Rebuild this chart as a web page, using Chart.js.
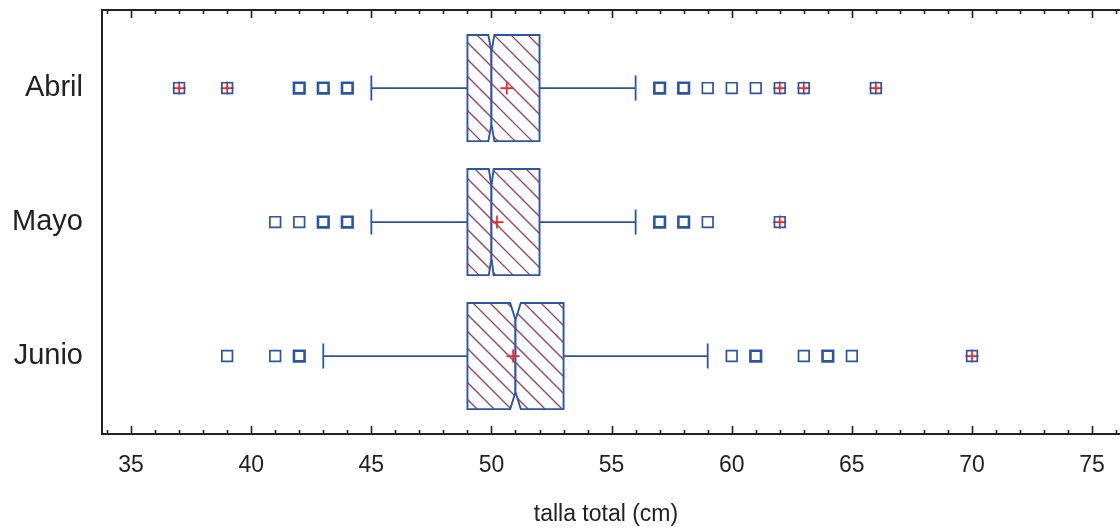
<!DOCTYPE html>
<html>
<head>
<meta charset="utf-8">
<script src="https://cdn.jsdelivr.net/npm/chart.js@4/dist/chart.umd.min.js"></script>
<style>
  body { margin: 0; background: #fff; }
  #wrap { width: 1120px; height: 529px; }
</style>
</head>
<body>
<div id="wrap"><canvas id="boxChart"></canvas></div>
<script>
// months on the vertical axis, top to bottom
var categories = ['Abril', 'Mayo', 'Junio'];

// box plot summary per month (talla total, cm)
var whiskerLow = [45, 45, 43];
var q1 = [49, 49, 49];
var median = [50, 50, 51];
var q3 = [52, 52, 53];
var whiskerHigh = [56, 56, 59];
var notchLow = [49.87, 49.89, 50.78];
var notchHigh = [50.12, 50.09, 51.22];
var means = [50.64, 50.23, 50.9];

// outside points; counts > 1 are drawn heavier (overlapping fish)
var abrilOutliers = [37, 39, 42, 43, 44, 57, 58, 59, 60, 61, 62, 63, 66];
var abrilCounts = [1, 1, 2, 2, 3, 2, 2, 1, 1, 1, 1, 1, 1];
var mayoOutliers = [41, 42, 43, 44, 57, 58, 59, 62];
var mayoCounts = [1, 1, 2, 2, 2, 2, 1, 1];
var junioOutliers = [39, 41, 42, 60, 61, 63, 64, 65, 70];
var junioCounts = [1, 1, 2, 1, 2, 1, 2, 1, 1];

// far outside points (red cross over the square)
var abrilFar = [37, 39, 62, 63, 66];
var mayoFar = [62];
var junioFar = [70];

var xTicks = [35, 40, 45, 50, 55, 60, 65, 70, 75];

var blue = '#2d55a5';
var red = '#ff2020';
var ink = '#222222';

function pts(list, idx) {
	return list.map(function (v) { return { x: v, y: idx }; });
}

var outlierData = pts(abrilOutliers, 0).concat(pts(mayoOutliers, 1), pts(junioOutliers, 2));
var outlierWidths = abrilCounts.concat(mayoCounts, junioCounts).map(function (c) { return c > 1 ? 2.6 : 1.7; });
var farData = pts(abrilFar, 0).concat(pts(mayoFar, 1), pts(junioFar, 2));
var meanData = means.map(function (m, i) { return { x: m, y: i }; });

function tracePoly(ctx, poly) {
	ctx.beginPath();
	poly.forEach(function (p, k) { k ? ctx.lineTo(p[0], p[1]) : ctx.moveTo(p[0], p[1]); });
	ctx.closePath();
}

var boxPlugin = {
	id: 'boxPlot',
	beforeDatasetsDraw: function (chart) {
		var ctx = chart.ctx;
		var xs = chart.scales.x;
		var ys = chart.scales.y;
		var X = function (v) { return xs.getPixelForValue(v); };
		categories.forEach(function (c, i) {
			var cy = ys.getPixelForValue(i);
			var top = ys.getPixelForValue(i - 0.396);
			var bot = ys.getPixelForValue(i + 0.396);
			var capH = 12.5;
			var inset = (bot - top) * 0.16;
			ctx.save();
			ctx.strokeStyle = blue;
			ctx.lineWidth = 1.8;
			// whiskers
			ctx.beginPath();
			ctx.moveTo(X(whiskerLow[i]), cy); ctx.lineTo(X(q1[i]), cy);
			ctx.moveTo(X(q3[i]), cy); ctx.lineTo(X(whiskerHigh[i]), cy);
			ctx.moveTo(X(whiskerLow[i]), cy - capH); ctx.lineTo(X(whiskerLow[i]), cy + capH);
			ctx.moveTo(X(whiskerHigh[i]), cy - capH); ctx.lineTo(X(whiskerHigh[i]), cy + capH);
			ctx.stroke();

			var halves = [
				[[X(q1[i]), top], [X(notchLow[i]), top], [X(median[i]), top + inset], [X(median[i]), bot - inset], [X(notchLow[i]), bot], [X(q1[i]), bot]],
				[[X(median[i]), top + inset], [X(notchHigh[i]), top], [X(q3[i]), top], [X(q3[i]), bot], [X(notchHigh[i]), bot], [X(median[i]), bot - inset]]
			];
			halves.forEach(function (poly) {
				tracePoly(ctx, poly);
				ctx.fillStyle = '#ffffff';
				ctx.fill();
				// diagonal hatch
				ctx.save();
				ctx.clip();
				ctx.strokeStyle = '#9d4466';
				ctx.lineWidth = 1.3;
				ctx.beginPath();
				var x0 = X(q1[i]) - (bot - top) - 20, x1 = X(q3[i]) + 20;
				for (var c0 = Math.floor((x0 - top) / 17) * 17; c0 < x1 - top; c0 += 17) {
					ctx.moveTo(c0 + top, top);
					ctx.lineTo(c0 + bot, bot);
				}
				ctx.stroke();
				ctx.restore();
				tracePoly(ctx, poly);
				ctx.strokeStyle = blue;
				ctx.lineWidth = 1.9;
				ctx.stroke();
			});
			ctx.restore();
		});
	},
	afterDraw: function (chart) {
		var ctx = chart.ctx;
		var a = chart.chartArea;
		var xs = chart.scales.x;
		ctx.save();
		ctx.strokeStyle = ink;
		ctx.lineWidth = 2;
		ctx.beginPath();
		ctx.moveTo(chart.width, a.top); ctx.lineTo(a.left, a.top);
		ctx.lineTo(a.left, a.bottom); ctx.lineTo(chart.width, a.bottom);
		ctx.stroke();
		ctx.lineWidth = 1.6;
		ctx.beginPath();
		for (var v = 34; v <= 76; v++) {
			var px = Math.round(xs.getPixelForValue(v)) + 0.5;
			if (px > chart.width) continue;
			var len = v % 5 === 0 ? 8 : 4;
			ctx.moveTo(px, a.bottom); ctx.lineTo(px, a.bottom - len);
			ctx.moveTo(px, a.top); ctx.lineTo(px, a.top + len);
		}
		ctx.stroke();
		ctx.restore();
	}
};

var chart = new Chart(document.getElementById('boxChart'), {
	type: 'scatter',
	data: {
		datasets: [
			{
				label: 'outliers',
				data: outlierData,
				pointStyle: 'rect',
				pointRadius: 7.5,
				pointBorderColor: blue,
				pointBackgroundColor: 'rgba(0,0,0,0)',
				pointBorderWidth: outlierWidths,
			},
			{
				label: 'far outliers',
				data: farData,
				pointStyle: 'cross',
				pointRadius: 6.5,
				pointBorderColor: red,
				pointBorderWidth: 1.7,
			},
			{
				label: 'mean',
				data: meanData,
				pointStyle: 'cross',
				pointRadius: 6.5,
				pointBorderColor: red,
				pointBorderWidth: 1.7,
			},
		],
	},
	options: {
		responsive: true,
		maintainAspectRatio: false,
		animation: false,
		events: [],
		layout: { padding: { top: 10, right: 0, left: 0, bottom: 0 } },
		plugins: {
			legend: { display: false },
			tooltip: { enabled: false },
		},
		scales: {
			x: {
				type: 'linear',
				min: 33.79,
				max: 75.74,
				grid: { display: false },
				border: { display: false },
				afterBuildTicks: function (s) { s.ticks = xTicks.map(function (v) { return { value: v }; }); },
				afterFit: function (s) { s.height = 95; s.paddingLeft = 0; s.paddingRight = 0; },
				ticks: {
					padding: 10,
					color: ink,
					font: { family: 'Liberation Sans, Arial, sans-serif', size: 23 },
				},
				title: {
					display: true,
					text: 'talla total (cm)',
					color: ink,
					padding: { top: 0, bottom: 1 },
					font: { family: 'Liberation Sans, Arial, sans-serif', size: 23 },
				},
			},
			y: {
				type: 'linear',
				reverse: true,
				min: -0.582,
				max: 2.582,
				grid: { display: false },
				border: { display: false },
				afterBuildTicks: function (s) { s.ticks = categories.map(function (c, i) { return { value: i }; }); },
				afterFit: function (s) { s.width = 102; s.paddingTop = 0; s.paddingBottom = 0; },
				ticks: {
					padding: 11,
					color: ink,
					font: { family: 'Liberation Sans, Arial, sans-serif', size: 29 },
					callback: function (v) { return categories[v]; },
				},
			},
		},
	},
	plugins: [boxPlugin],
});
</script>
</body>
</html>
